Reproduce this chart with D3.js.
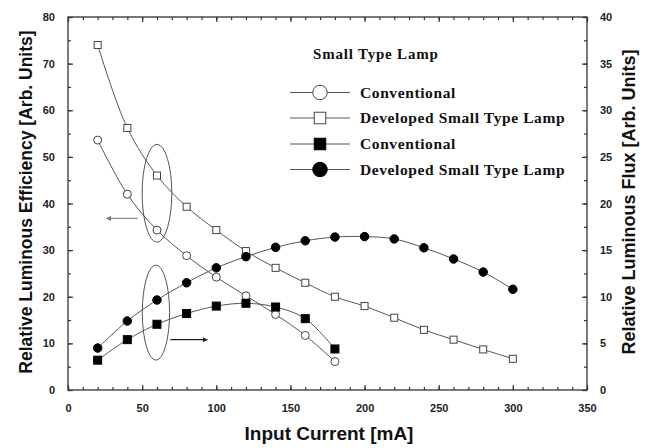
<!DOCTYPE html>
<html>
<head>
<meta charset="utf-8">
<script src="https://cdn.jsdelivr.net/npm/d3@7"></script>
<style>
  body { margin: 0; background: #fff; }
  text { font-family: Arial, "Liberation Sans", sans-serif; }
</style>
</head>
<body>
<script>
// input current, mA
var currentShort = [20, 40, 60, 80, 100, 120, 140, 160, 180];
var currentLong = [20, 40, 60, 80, 100, 120, 140, 160, 180, 200, 220, 240, 260, 280, 300];

// efficiency (left axis)
var effConventional = [53.6, 42.0, 34.3, 28.8, 24.2, 20.2, 16.2, 11.7, 6.1];
var effDeveloped = [74.0, 56.2, 46.0, 39.3, 34.3, 29.8, 26.2, 23.0, 20.0, 18.0, 15.5, 12.9, 10.8, 8.7, 6.7];

// flux (right axis)
var fluxConventional = [3.2, 5.4, 7.05, 8.2, 9.0, 9.3, 8.9, 7.65, 4.4];
var fluxDeveloped = [4.5, 7.4, 9.65, 11.5, 13.1, 14.3, 15.3, 16.0, 16.4, 16.45, 16.2, 15.25, 14.05, 12.65, 10.8];

var xTicks = [0, 50, 100, 150, 200, 250, 300, 350];
var leftTicks = [0, 10, 20, 30, 40, 50, 60, 70, 80];
var rightTicks = [0, 5, 10, 15, 20, 25, 30, 35, 40];

var legendTitle = 'Small Type Lamp';
var legendNames = ['Conventional', 'Developed Small Type Lamp', 'Conventional', 'Developed Small Type Lamp'];

var W = 646, H = 448;
var margin = {top: 17, right: 59, bottom: 58, left: 68};
var width = W - margin.left - margin.right,
    height = H - margin.top - margin.bottom;

var svg = d3.select('body').append('svg')
  .attr('width', W).attr('height', H);
var g = svg.append('g')
  .attr('transform', 'translate(' + margin.left + ',' + margin.top + ')');

var x = d3.scaleLinear().domain([0, 350]).range([0, width]);
var yL = d3.scaleLinear().domain([0, 80]).range([height, 0]);
var yR = d3.scaleLinear().domain([0, 40]).range([height, 0]);

var axisColor = '#333';

// frame
g.append('rect').attr('width', width).attr('height', height)
  .attr('fill', 'none').attr('stroke', axisColor).attr('stroke-width', 1.3);

function styleAxis(sel, labels) {
  sel.select('.domain').remove();
  sel.selectAll('line').attr('stroke', axisColor).attr('stroke-width', 1.2);
  sel.selectAll('text').attr('font-size', 11).attr('fill', '#222').attr('font-weight', 'bold');
  if (!labels) sel.selectAll('text').remove();
}

// bottom axis: major + minor, ticks point inward
var gx = g.append('g').attr('transform', 'translate(0,' + height + ')');
gx.append('g').call(d3.axisBottom(x).tickValues(d3.range(0, 351, 10)).tickSize(-3).tickFormat(''))
  .call(styleAxis, false);
gx.append('g').call(d3.axisBottom(x).tickValues(xTicks).tickSize(-5).tickPadding(14))
  .call(styleAxis, true);

var gt = g.append('g');
gt.append('g').call(d3.axisTop(x).tickValues(d3.range(0, 351, 10)).tickSize(-3).tickFormat(''))
  .call(styleAxis, false);
gt.append('g').call(d3.axisTop(x).tickValues(xTicks).tickSize(-5).tickFormat(''))
  .call(styleAxis, false);

var gl = g.append('g');
gl.append('g').call(d3.axisLeft(yL).tickValues(d3.range(0, 81, 5)).tickSize(-3).tickFormat(''))
  .call(styleAxis, false);
gl.append('g').call(d3.axisLeft(yL).tickValues(leftTicks).tickSize(-5).tickPadding(13))
  .call(styleAxis, true);

var gr = g.append('g').attr('transform', 'translate(' + width + ',0)');
gr.append('g').call(d3.axisRight(yR).tickValues(d3.range(0, 40.1, 2.5)).tickSize(-3).tickFormat(''))
  .call(styleAxis, false);
gr.append('g').call(d3.axisRight(yR).tickValues(rightTicks).tickSize(-5).tickPadding(13))
  .call(styleAxis, true);

// axis titles
svg.append('text').text('Input Current [mA]')
  .attr('x', 329).attr('y', 440).attr('text-anchor', 'middle')
  .attr('font-size', 19).attr('font-weight', 'bold').attr('fill', '#111');
svg.append('text').text('Relative Luminous Efficiency [Arb. Units]')
  .attr('transform', 'translate(32,202) rotate(-90)').attr('text-anchor', 'middle')
  .attr('font-size', 17.5).attr('font-weight', 'bold').attr('fill', '#111');
svg.append('text').text('Relative Luminous Flux [Arb. Units]')
  .attr('transform', 'translate(635,202) rotate(-90)').attr('text-anchor', 'middle')
  .attr('font-size', 18).attr('font-weight', 'bold').attr('fill', '#111');

var lineColor = '#555';

var series = [
  {xs: currentShort, ys: effConventional, y: yL, shape: 'circle', fill: '#fff', size: 8},
  {xs: currentLong, ys: effDeveloped, y: yL, shape: 'square', fill: '#fff', size: 7},
  {xs: currentShort, ys: fluxConventional, y: yR, shape: 'square', fill: '#000', size: 8},
  {xs: currentLong, ys: fluxDeveloped, y: yR, shape: 'circle', fill: '#000', size: 8.5}
];

function drawMarker(sel, shape, fill, cx, cy, size) {
  if (shape === 'circle') {
    sel.append('circle').attr('cx', cx).attr('cy', cy).attr('r', size / 2)
      .attr('fill', fill).attr('stroke', fill === '#fff' ? '#444' : '#000').attr('stroke-width', 1);
  } else {
    sel.append('rect').attr('x', cx - size / 2).attr('y', cy - size / 2)
      .attr('width', size).attr('height', size)
      .attr('fill', fill).attr('stroke', fill === '#fff' ? '#444' : '#000').attr('stroke-width', 1);
  }
}

series.forEach(function(s) {
  var pts = s.xs.map(function(v, i) { return [x(v), s.y(s.ys[i])]; });
  g.append('path').datum(pts)
    .attr('d', d3.line().curve(d3.curveCatmullRom.alpha(0.5)))
    .attr('fill', 'none').attr('stroke', lineColor).attr('stroke-width', 1);
  var ms = g.append('g');
  pts.forEach(function(p) {
    drawMarker(ms, s.shape, s.fill, p[0], p[1], s.size);
  });
});

// annotation ellipses and arrows
var ellipses = [
  {cx: 60, cy: 42.2, rx: 10, ry: 10.5, y: yL},
  {cx: 59.3, cy: 8.3, rx: 9.2, ry: 5.1, y: yR}
];
ellipses.forEach(function(e) {
  g.append('ellipse')
    .attr('cx', x(e.cx)).attr('cy', e.y(e.cy))
    .attr('rx', x(e.rx) - x(0)).attr('ry', e.y(0) - e.y(e.ry))
    .attr('fill', 'none').attr('stroke', '#555').attr('stroke-width', 1);
});

svg.append('defs').selectAll('marker')
  .data([{id: 'ahGrey', c: '#777'}, {id: 'ahDark', c: '#222'}])
  .enter().append('marker')
  .attr('id', function(d) { return d.id; })
  .attr('viewBox', '0 0 10 10').attr('refX', 9).attr('refY', 5)
  .attr('markerWidth', 7).attr('markerHeight', 5).attr('markerUnits', 'userSpaceOnUse')
  .attr('orient', 'auto')
  .append('path').attr('d', 'M0,0L10,5L0,10Z').attr('fill', function(d) { return d.c; });

var arrows = [
  {x1: 47, x2: 26, v: 36.8, y: yL, id: 'ahGrey', c: '#888'},
  {x1: 69, x2: 94, v: 5.4, y: yR, id: 'ahDark', c: '#222'}
];
arrows.forEach(function(a) {
  g.append('line')
    .attr('x1', x(a.x1)).attr('x2', x(a.x2))
    .attr('y1', a.y(a.v)).attr('y2', a.y(a.v))
    .attr('stroke', a.c).attr('stroke-width', 1.2)
    .attr('marker-end', 'url(#' + a.id + ')');
});

// legend
var serif = '"Liberation Serif", "Times New Roman", serif';
var leg = svg.append('g');
leg.append('text').text(legendTitle)
  .attr('x', 313).attr('y', 59)
  .style('font-family', serif).style('letter-spacing', '0.8px')
  .attr('font-size', 15).attr('font-weight', 'bold').attr('fill', '#111');
var legY = [92.5, 118, 144, 169.5];
series.forEach(function(s, i) {
  leg.append('line').attr('x1', 290).attr('x2', 350)
    .attr('y1', legY[i]).attr('y2', legY[i])
    .attr('stroke', lineColor).attr('stroke-width', 1);
  drawMarker(leg, s.shape, s.fill, 320, legY[i], s.shape === 'circle' ? 14.5 : 11.5);
  leg.append('text').text(legendNames[i])
    .attr('x', 360).attr('y', legY[i] + 5)
    .style('font-family', serif).style('letter-spacing', '0.6px')
    .attr('font-size', 15.5).attr('font-weight', 'bold').attr('fill', '#111');
});
</script>
</body>
</html>
